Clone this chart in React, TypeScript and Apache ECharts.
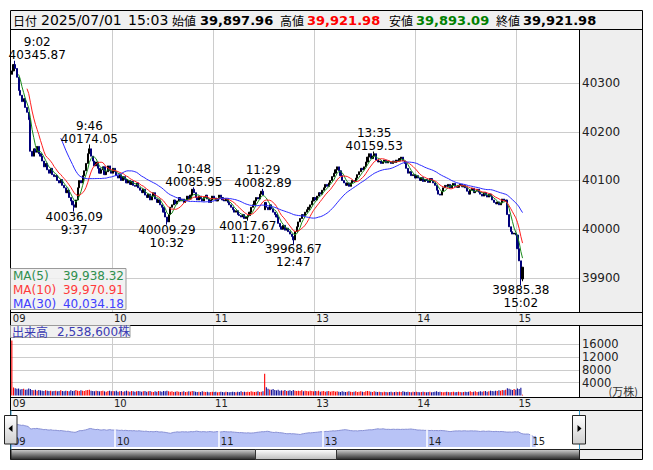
import React, { useEffect, useRef } from 'react';
import * as echarts from 'echarts';

// ---- data ----
// 1-minute closes, 9:00 .. 11:29 (index 0..149), 12:30 .. 15:03 (index 150..303)
const closes: number[] = [
  40325, 40338, 40330, 40312, 40285, 40275, 40262, 40268, 40250, 40240,
  40225, 40160, 40150, 40165, 40158, 40170, 40155, 40150, 40140, 40128,
  40135, 40122, 40115, 40125, 40112, 40108, 40110, 40100, 40095, 40102,
  40090, 40085, 40075, 40080, 40065, 40058, 40050, 40045, 40060, 40085,
  40100, 40095, 40110, 40120, 40135, 40155, 40165, 40150, 40140, 40130,
  40138, 40125, 40115, 40122, 40128, 40112, 40118, 40130, 40120, 40115,
  40125, 40118, 40110, 40105, 40112, 40100, 40108, 40102, 40095, 40100,
  40092, 40098, 40090, 40088, 40095, 40085, 40080, 40075, 40082, 40070,
  40065, 40072, 40060, 40068, 40075, 40062, 40055, 40060, 40050, 40045,
  40035, 40025, 40015, 40030, 40045, 40050, 40060, 40052, 40058, 40065,
  40058, 40062, 40055, 40060, 40068, 40062, 40070, 40082, 40075, 40065,
  40060, 40068, 40062, 40058, 40065, 40070, 40062, 40055, 40060, 40068,
  40064, 40058, 40062, 40070, 40065, 40060, 40058, 40062, 40055, 40050,
  40045, 40040, 40035, 40038, 40030, 40028, 40025, 40030, 40022, 40025,
  40028, 40035, 40045, 40050, 40058, 40065, 40062, 40072, 40078, 40070,
  40055, 40045, 40040, 40050, 40042, 40035, 40030, 40025, 40012, 40005,
  40000, 40008, 39998, 40002, 39995, 39990, 39985, 39978, 39995, 40005,
  40015, 40022, 40030, 40028, 40035, 40040, 40045, 40050, 40058, 40065,
  40060, 40068, 40075, 40072, 40080, 40085, 40092, 40088, 40095, 40100,
  40108, 40115, 40122, 40128, 40120, 40110, 40100, 40095, 40090, 40095,
  40088, 40095, 40100, 40098, 40105, 40112, 40118, 40125, 40122, 40128,
  40138, 40148, 40155, 40145, 40150, 40155, 40142, 40138, 40140, 40135,
  40138, 40142, 40136, 40140, 40138, 40135, 40140, 40137, 40142, 40140,
  40145, 40148, 40140, 40135, 40125, 40115, 40118, 40110, 40112, 40105,
  40110, 40105, 40100, 40106, 40098, 40102, 40100, 40096, 40104, 40100,
  40095, 40090, 40080, 40072, 40070, 40078, 40085, 40090, 40088, 40092,
  40085, 40090, 40094, 40088, 40086, 40090, 40092, 40087, 40090, 40085,
  40078, 40072, 40080, 40084, 40075, 40078, 40082, 40076, 40072, 40068,
  40075, 40070, 40066, 40072, 40068, 40060, 40055, 40052, 40056, 40050,
  40054, 40062, 40058, 40060, 40030, 40005, 39995, 39990, 39992, 39988,
  39960, 39935, 39897.96, 39921.98,
];
const firstOpen = 40318;
const gapOpenIdx = [150];
const gapOpenVal = [40040];
const highIdx = [2, 46, 108, 149, 215, 303];
const highVal = [40345.87, 40174.05, 40085.95, 40082.89, 40159.53, 39921.98];
const lowIdx = [37, 92, 140, 167, 302, 303];
const lowVal = [40036.09, 40009.29, 40017.67, 39968.67, 39885.38, 39893.09];
const peakHighIdx = [2, 46, 108, 149, 215];
const peakLowIdx = [37, 92, 140, 167, 302];

// volume, 万株
const volumes: number[] = [
  17200, 2500, 2300, 2100, 2200, 1900, 2000, 2100, 1800, 1900,
  2200, 2000, 1700, 1600, 1800, 1500, 1700, 1600, 1500, 1400,
  1600, 1500, 1400, 1500, 1300, 1400, 1500, 1300, 1400, 1600,
  1400, 1300, 1500, 1400, 1300, 1600, 1400, 1500, 1700, 1500,
  1400, 1600, 1500, 1400, 1600, 1700, 1800, 1500, 1400, 1300,
  1500, 1400, 1300, 1400, 1500, 1300, 1200, 1400, 1500, 1300,
  1400, 1300, 1500, 1200, 1300, 1400, 1200, 1300, 1500, 1300,
  1200, 1400, 1300, 1200, 1300, 1400, 1300, 1200, 1300, 1400,
  1200, 1300, 1400, 1200, 1100, 1300, 1200, 1400, 1300, 1200,
  1400, 1300, 1500, 1300, 1200, 1300, 1100, 1200, 1300, 1200,
  1100, 1200, 1300, 1100, 1200, 1300, 1200, 1400, 1300, 1200,
  1100, 1200, 1100, 1300, 1200, 1100, 1200, 1000, 1100, 1200,
  1100, 1200, 1000, 1100, 1200, 1100, 1000, 1200, 1100, 1000,
  1100, 1200, 1100, 1000, 1200, 1100, 1300, 1100, 1200, 1100,
  1200, 1100, 1300, 1200, 1100, 1200, 1300, 1100, 1200, 1300,
  6800, 2600, 2100, 1900, 1800, 2000, 1700, 1600, 1800, 1500,
  1600, 1500, 1700, 1400, 1500, 1600, 1400, 1700, 1500, 1400,
  1500, 1400, 1600, 1300, 1500, 1400, 1300, 1500, 1400, 1300,
  1400, 1300, 1500, 1200, 1300, 1400, 1200, 1300, 1400, 1200,
  1300, 1400, 1200, 1300, 1200, 1100, 1300, 1200, 1100, 1200,
  1300, 1200, 1100, 1200, 1300, 1100, 1200, 1300, 1200, 1100,
  1300, 1400, 1300, 1200, 1100, 1300, 1200, 1100, 1200, 1100,
  1000, 1200, 1100, 1000, 1100, 1200, 1000, 1100, 1200, 1100,
  1200, 1100, 1300, 1200, 1100, 1200, 1100, 1000, 1200, 1100,
  1200, 1100, 1000, 1100, 1200, 1100, 1000, 1100, 1200, 1000,
  1100, 1200, 1300, 1100, 1200, 1100, 1000, 1100, 1200, 1100,
  1000, 1100, 1200, 1000, 1100, 1200, 1100, 1000, 1100, 1200,
  1100, 1200, 1300, 1100, 1200, 1300, 1100, 1200, 1300, 1200,
  1300, 1400, 1200, 1300, 1500, 1400, 1300, 1500, 1400, 1600,
  1500, 1700, 1600, 1800, 2300, 2100, 1900, 1700, 2000, 1800,
  2200, 2000, 2400, 254,
];

const priceTicks = [39900, 40000, 40100, 40200, 40300];
const volTicks = [4000, 8000, 12000, 16000];
const hourIdx = [0, 60, 120, 180, 240, 300];
const hourLabels = ['09', '10', '11', '13', '14', '15'];

const headerDate = '2025/07/01';
const headerTime = '15:03';
const headerNames = ['始値', '高値', '安値', '終値'];
const headerValues = ['39,897.96', '39,921.98', '39,893.09', '39,921.98'];
const maNames = ['MA(5)', 'MA(10)', 'MA(30)'];
const maPeriods = [5, 10, 30];
const maValues = ['39,938.32', '39,970.91', '40,034.18'];
const volumeTitle = '出来高';
const volumeValue = '2,538,600株';

// ---- styling ----
const FONT = '"DejaVu Sans", "Noto Sans CJK JP", sans-serif';
const JFONT = '"Noto Sans CJK JP", "DejaVu Sans", sans-serif';
const PANEL = '#eeeeee';
const MA_LINE = ['#1a8a1a', '#ff2020', '#2a2aff'];
const MA_TEXT = ['#2f8f4f', '#ff3b3b', '#4040ff'];

function timeLabels(n: number): string[] {
  const out: string[] = [];
  for (let i = 0; i < n; i++) {
    const mins = i < 150 ? 9 * 60 + i : 12 * 60 + 30 + (i - 150);
    const h = Math.floor(mins / 60);
    const m = mins % 60;
    out.push(String(h).padStart(2, '0') + ':' + String(m).padStart(2, '0'));
  }
  return out;
}

function buildOption() {
  const cats = timeLabels(337);
  const cats2 = timeLabels(329);
  const opens = closes.map((c, i) => {
    const g = gapOpenIdx.indexOf(i);
    if (g >= 0) return gapOpenVal[g];
    return i === 0 ? firstOpen : closes[i - 1];
  });
  const highs = closes.map((c, i) => {
    const k = highIdx.indexOf(i);
    const base = Math.max(opens[i], c);
    return k >= 0 ? Math.max(base, highVal[k]) : base;
  });
  const lows = closes.map((c, i) => {
    const k = lowIdx.indexOf(i);
    const base = Math.min(opens[i], c);
    return k >= 0 ? Math.min(base, lowVal[k]) : base;
  });
  const candle = closes.map((c, i) => [opens[i], c, lows[i], highs[i]]);
  const up = closes.map((c, i) => c >= opens[i]);
  const ma = (n: number) =>
    closes.map((_, i) =>
      i < n - 1 ? '-' : +(closes.slice(i - n + 1, i + 1).reduce((a, b) => a + b, 0) / n).toFixed(2)
    );
  const fmtT = (i: number) => cats[i].replace(/^0/, '');

  const mpData = [
    ...peakHighIdx.map((i, k) => ({
      coord: [i, highs[i]],
      label: {
        position: 'top',
        distance: 0,
        offset: [k === 0 ? 22 : 0, 1.5],
        formatter: fmtT(i) + '\n' + highs[i].toFixed(2),
      },
    })),
    ...peakLowIdx.map((i) => ({
      coord: [i, lows[i]],
      label: {
        position: 'bottom',
        distance: 0,
        offset: [0, -2],
        formatter: lows[i].toFixed(2) + '\n' + fmtT(i),
      },
    })),
  ];

  const rect = (x: number, y: number, w: number, h: number, fill: any, stroke: string = 'none', z = -1) => ({
    type: 'rect', shape: { x, y, width: w, height: h }, style: { fill, stroke, lineWidth: 1 }, z, silent: true,
  });
  const line = (x1: number, y1: number, x2: number, y2: number, stroke = '#000', z = 10, w = 1) => ({
    type: 'line', shape: { x1, y1, x2, y2 }, style: { stroke, lineWidth: w }, z, silent: true,
  });
  const text = (x: number, y: number, t: string, fill: string, font: string, align = 'left', z = 20) => ({
    type: 'text', x, y, z, silent: true,
    style: { text: t, fill, font, align, verticalAlign: 'middle', textAlign: align, textVerticalAlign: 'middle' },
  });
  const vGrad = (a: string, b: string) => ({
    type: 'linear', x: 0, y: 0, x2: 0, y2: 1, colorStops: [{ offset: 0, color: a }, { offset: 1, color: b }],
  });

  const L = 10.5, R = 642.5, SEP = 579.5;
  const headerNameX = [172, 280, 389, 496];
  const headerValX = [200, 307, 416, 523];
  const headerValColor = ['#000000', '#ff0000', '#008000', '#000000'];

  const graphic: any[] = [
    // backgrounds
    rect(L, 10.5, R - L, 19, '#f0f0f0'),
    rect(SEP, 29.5, R - SEP, 283, PANEL),
    rect(L, 312.5, R - L, 13, PANEL),
    rect(SEP, 325.5, R - SEP, 72, PANEL),
    rect(L, 397.5, R - L, 13, PANEL),
    rect(SEP, 410.5, R - SEP, 49, PANEL),
    // borders
    rect(L, 10.5, R - L, 449, 'none', '#000', 10),
    line(L, 29.5, R, 29.5),
    line(L, 312.5, R, 312.5),
    line(L, 325.5, R, 325.5),
    line(L, 397.5, R, 397.5),
    line(L, 410.5, R, 410.5),
    line(L, 449.5, R, 449.5),
    line(SEP, 29.5, SEP, 312.5),
    line(SEP, 325.5, SEP, 397.5),
    // slider frame
    line(11, 410.5, 11, 449.5, '#39a0d0', 12),
    line(SEP, 410.5, SEP, 449.5, '#39a0d0', 12),
    rect(11, 449.5, 568.5, 10, vGrad('#d0d0d0', '#2a2a2a'), '#222', 11),
    rect(255.5, 449.5, 81, 10, vGrad('#ffffff', '#bdbdbd'), '#333', 12),
    rect(4.5, 415.5, 12.5, 28.5, vGrad('#ffffff', '#cfcfcf'), '#222', 13),
    { type: 'polygon', shape: { points: [[12.5, 425], [12.5, 432], [8.5, 428.5]] }, style: { fill: '#000' }, z: 14, silent: true },
    rect(572.5, 415.5, 13, 28.5, vGrad('#ffffff', '#cfcfcf'), '#222', 13),
    { type: 'polygon', shape: { points: [[577.5, 425], [577.5, 432], [581.5, 428.5]] }, style: { fill: '#000' }, z: 14, silent: true },
    // header
    text(13, 20, '日付', '#000', `12px ${JFONT}`),
    text(41, 20, headerDate, '#000', `14px ${FONT}`),
    text(128, 20, headerTime, '#000', `14px ${FONT}`),
    ...headerNames.map((n, k) => text(headerNameX[k], 20, n, '#000', `12px ${JFONT}`)),
    ...headerValues.map((v, k) => text(headerValX[k], 20, v, headerValColor[k], `bold 13px ${FONT}`)),
    // MA legend
    rect(10.5, 268.5, 115.5, 41, 'rgba(240,240,240,0.85)', '#9a9a9a', 15),
    ...maNames.map((n, k) => text(13, 275.5 + 14 * k, n, MA_TEXT[k], `12px ${FONT}`)),
    ...maValues.map((v, k) => text(124, 275.5 + 14 * k, v, MA_TEXT[k], `12px ${FONT}`, 'right')),
    // volume title
    rect(10.5, 325.5, 119.5, 12, 'rgba(240,240,240,0.9)', '#9a9a9a', 15),
    text(12, 331.5, volumeTitle, '#3b3bb3', `12px ${JFONT}`),
    text(57, 331.5, volumeValue, '#3b3bb3', `12px ${FONT}`),
    text(638, 391, '(万株)', '#333', `11px ${JFONT}`, 'right'),
  ];

  const hourLabelFmt = (_v: string, i: number) => {
    const k = hourIdx.indexOf(i);
    return k >= 0 ? hourLabels[k] : '';
  };
  const catAxis = (gridIndex: number, data: string[], margin: number, boundaryGap: boolean, split: boolean, inside = false) => ({
    type: 'category', gridIndex, data, boundaryGap, z: inside ? 6 : 0,
    axisLine: { show: false }, axisTick: { show: false },
    axisLabel: {
      interval: (i: number) => hourIdx.includes(i),
      formatter: hourLabelFmt, align: 'left', margin, inside,
      verticalAlign: inside ? 'bottom' : 'top', padding: [0, 0, 0, inside ? 2 : 1],
      fontSize: 10, color: '#222', fontFamily: FONT,
    },
    splitLine: {
      show: split, interval: (i: number) => i > 0 && hourIdx.includes(i),
      lineStyle: { color: '#cccccc', width: 1, type: 'solid' },
    },
  });

  const gridMark = (vals: number[], key: string) => ({
    silent: true, z: 1, symbol: ['none', 'none'], label: { show: false },
    lineStyle: { color: '#cccccc', width: 1, type: 'solid' },
    emphasis: { disabled: true },
    data: vals.map((v) => ({ [key]: v })),
  });

  return {
    animation: false,
    backgroundColor: '#ffffff',
    textStyle: { fontFamily: FONT },
    grid: [
      { left: 11, top: 30, width: 568, height: 282, outerBoundsMode: 'none' },
      { left: 11, top: 325, width: 568, height: 70.5, outerBoundsMode: 'none' },
      { left: 11, top: 410, width: 568, height: 37, outerBoundsMode: 'none' },
    ],
    xAxis: [
      catAxis(0, cats, 1, true, true),
      catAxis(1, cats, 2.5, true, true),
      catAxis(2, cats2, 1, false, false, true),
    ],
    yAxis: [
      {
        type: 'value', gridIndex: 0, position: 'right', min: 39830, max: 40409, splitNumber: 5,
        axisLine: { show: false }, axisTick: { show: false }, splitLine: { show: false },
        axisLabel: {
          formatter: (v: number) => (priceTicks.includes(v) ? String(v) : ''),
          margin: 3, fontSize: 12, color: '#222', fontFamily: FONT,
        },
      },
      {
        type: 'value', gridIndex: 1, position: 'right', min: 0, max: 22000, interval: 4000,
        axisLine: { show: false }, axisTick: { show: false }, splitLine: { show: false },
        axisLabel: {
          formatter: (v: number) => (volTicks.includes(v) ? String(v) : ''),
          margin: 3, fontSize: 11.5, color: '#222', fontFamily: FONT,
        },
      },
      { type: 'value', gridIndex: 2, min: 39589, max: 40740, show: false },
    ],
    series: [
      {
        type: 'candlestick', xAxisIndex: 0, yAxisIndex: 0, data: candle, barWidth: 1.6,
        itemStyle: { color: '#000000', color0: '#00007a', borderColor: '#000000', borderColor0: '#00007a', borderWidth: 1 },
        markLine: gridMark(priceTicks, 'yAxis'),
        markPoint: {
          symbol: 'rect', symbolSize: 1, itemStyle: { color: 'rgba(0,0,0,0)' }, silent: true,
          label: { show: true, color: '#000', fontSize: 12, lineHeight: 13, fontFamily: FONT },
          data: mpData,
        },
      },
      ...maPeriods.map((p, k) => ({
        type: 'line', xAxisIndex: 0, yAxisIndex: 0, data: ma(p), symbol: 'none', z: 3,
        lineStyle: { color: MA_LINE[k], width: 1 }, silent: true,
      })),
      {
        type: 'bar', xAxisIndex: 1, yAxisIndex: 1, barWidth: 1.1, silent: true,
        data: volumes.map((v, i) => ({ value: v, itemStyle: { color: up[i] ? '#ff0000' : '#10109a' } })),
        markLine: gridMark(volTicks, 'yAxis'),
      },
      {
        type: 'line', xAxisIndex: 2, yAxisIndex: 2, data: closes, symbol: 'none', silent: true,
        lineStyle: { color: '#8890d4', width: 1 },
        areaStyle: { color: '#b8c3f6', opacity: 1 },
        markLine: {
          silent: true, symbol: ['none', 'none'], label: { show: false },
          lineStyle: { color: '#ffffff', width: 1.5, type: 'solid' },
          data: hourIdx.slice(1).map((i) => ({ xAxis: i })),
        },
      },
    ],
    graphic,
  };
}

export default function App() {
  const ref = useRef<HTMLDivElement>(null);
  useEffect(() => {
    const chart = echarts.init(ref.current!, null, { renderer: 'svg' });
    chart.setOption(buildOption() as any);
    return () => chart.dispose();
  }, []);
  return (
    <div
      ref={ref}
      style={{ position: 'fixed', left: 0, top: 0, width: 653, height: 470, background: '#fff' }}
    />
  );
}
